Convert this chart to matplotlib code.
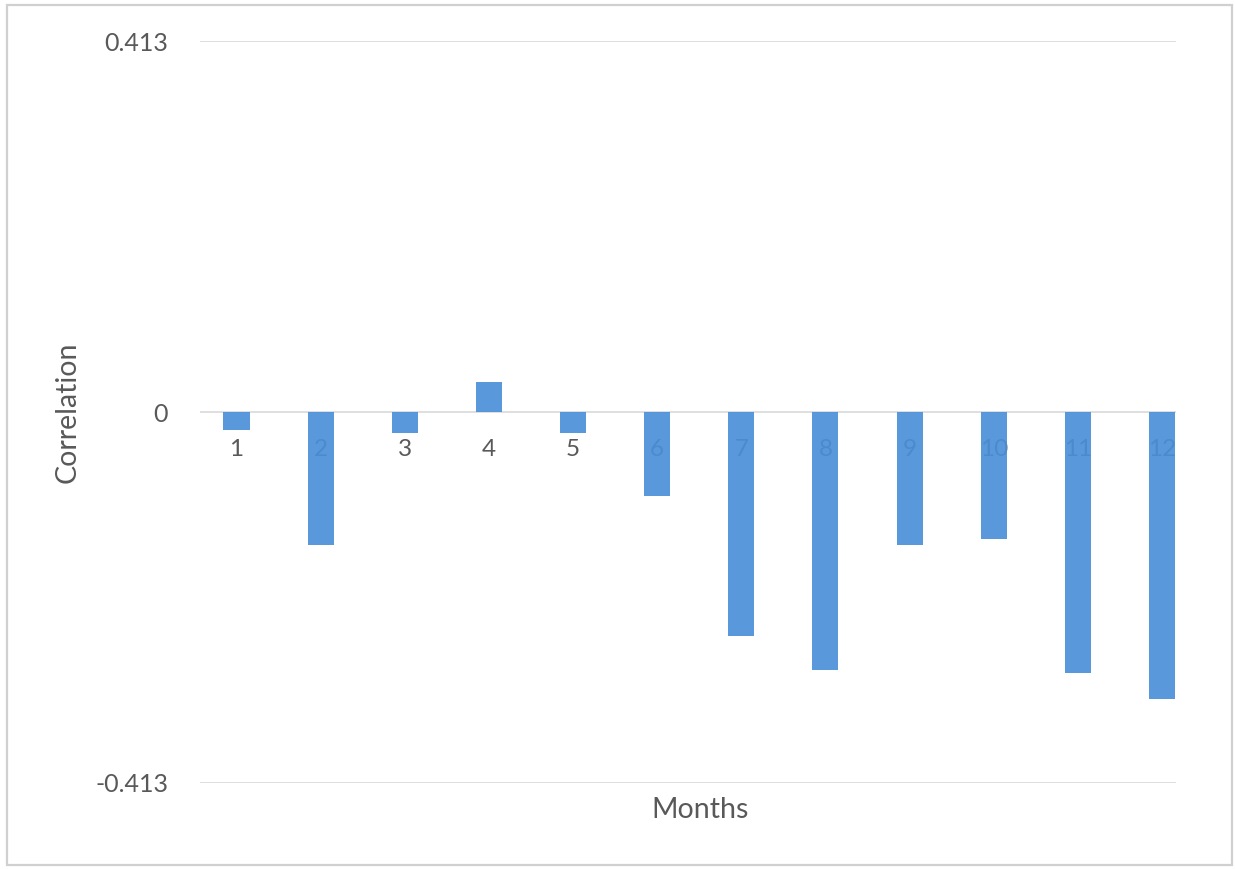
import matplotlib
matplotlib.use("Agg")
import matplotlib.pyplot as plt
import matplotlib.transforms as mtransforms
from matplotlib.patches import Rectangle

# Monthly correlation values
months = ["1", "2", "3", "4", "5", "6", "7", "8", "9", "10", "11", "12"]
correlation = [-0.020, -0.148, -0.023, 0.033, -0.023, -0.093,
               -0.249, -0.287, -0.148, -0.141, -0.291, -0.320]
y_ticks = [-0.413, 0, 0.413]
y_tick_labels = ["-0.413", "0", "0.413"]

plt.rcParams["font.family"] = ["Lato", "DejaVu Sans"]
text_color = "#595959"
grid_color = "#d9d9d9"
bar_color = "#4a8fd8"

W, H = 1235, 869
fig = plt.figure(figsize=(W / 100, H / 100), dpi=100)
fig.patch.set_facecolor("white")

# chart-area border
fig.patches.append(Rectangle((7 / W, 1 - 865 / H), 1225 / W, 860 / H,
                             transform=fig.transFigure, fill=False,
                             edgecolor="#d0d0d0", linewidth=1.6))

ax = fig.add_axes([200 / W, 1 - 783 / H, 976 / W, 742 / H])
x = list(range(1, len(months) + 1))

for yt in y_ticks:
    ax.axhline(yt, color=grid_color, linewidth=1.2, zorder=0)

ax.bar(x, correlation, width=0.31, color=bar_color, alpha=0.92, zorder=3)

# category labels sit just under the zero line
offset = mtransforms.offset_copy(ax.transData, fig=fig, x=0, y=-37, units="dots")
for xi, lab in zip(x, months):
    t = ax.text(xi, 0, lab, transform=offset, ha="center", va="center",
                fontsize=17.5, color=text_color, zorder=2)
    t.set_clip_on(True)

ax.set_xlim(1 - 36.5 / 84.05, 12 + 14 / 84.05)
ax.set_ylim(-0.413, 0.413)
ax.set_xticks([])
ax.set_yticks(y_ticks)
ax.set_yticklabels(y_tick_labels)
ax.tick_params(axis="y", length=0, pad=23, labelsize=18, labelcolor=text_color)
for s in ax.spines.values():
    s.set_visible(False)
ax.patch.set_alpha(0)

fig.text(68 / W, 1 - 412 / H, "Correlation", rotation=90, ha="center",
         va="center", fontsize=20.5, color=text_color)
fig.text(700 / W, 1 - 810 / H, "Months", ha="center", va="center",
         fontsize=20.5, color=text_color)

fig.savefig("out.png", dpi=100)
